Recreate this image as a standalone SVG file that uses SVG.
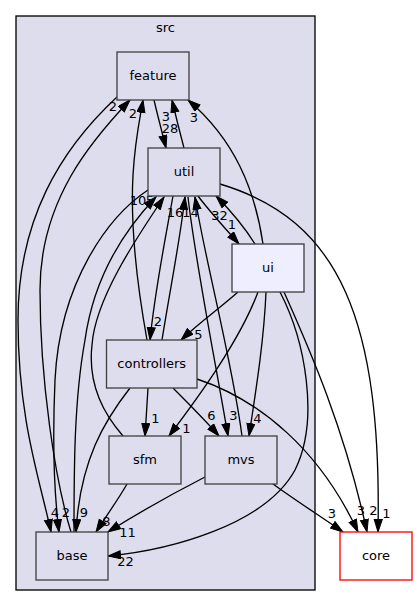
<svg xmlns="http://www.w3.org/2000/svg" width="417" height="607" viewBox="0 0 417 607">
<defs>
<style>
text{font-family:"DejaVu Sans",sans-serif;font-size:13px;fill:#000;text-anchor:middle}
.n rect{fill:#ddddee;stroke:#404040;stroke-width:1.33}
#ui rect{fill:#eeeeff}
#core rect{fill:#fff;stroke:#ff0000}
.e path{fill:none;stroke:#000;stroke-width:1.33;marker-end:url(#a)}
</style>
<marker id="a" markerUnits="userSpaceOnUse" markerWidth="14" markerHeight="10" refX="13" refY="4.5" orient="auto">
<path d="M0.5,0.5 L13,4.5 L0.5,8.5 z" fill="#000" stroke="#000" stroke-width="1"/>
</marker>
</defs>
<rect width="417" height="607" fill="#fff"/>
<g id="cluster_src">
<rect x="16" y="16" width="299" height="574" fill="#ddddee" stroke="#000" stroke-width="1.33"/>
<text x="165.5" y="31.5">src</text>
</g>
<g id="connectors" class="e">
<g><path d="M154,100 C157,113 161,128 166,148"/><text x="170" y="132.5">28</text></g>
<g><path d="M184,148 C180,133 176,117 172,100"/><text x="166" y="121">3</text></g>
<g><path d="M263,244 C255,190 235,140 188,100"/><text x="194" y="122">3</text></g>
<g><path d="M147,340 C138,290 130,230 133,175 C135,140 140,118 143,100"/><text x="133" y="118">2</text></g>
<g><path d="M71,532 C55,480 40,380 40,290 C40,200 92,140 130,100"/><text x="113" y="111">2</text></g>
<g><path d="M117,97 C60,150 18,220 18,320 C18,420 40,480 51,532"/><text x="55" y="517">4</text></g>
<g><path d="M148,190 C110,215 60,280 55,380 C52,450 55,500 59,532"/><text x="66" y="517">2</text></g>
<g><path d="M74,532 C74,470 74,400 85,340 C92,290 115,240 156,197"/><text x="138" y="205">10</text></g>
<g><path d="M123,436 C100,410 88,380 92,345 C95,300 135,240 164,197"/><text x="150" y="205">5</text></g>
<g><path d="M173,196 C165,240 155,290 150,340"/><text x="158" y="326">2</text></g>
<g><path d="M162,340 C170,290 180,240 185,197"/><text x="175" y="217">16</text></g>
<g><path d="M188,197 C195,260 215,360 228,436"/><text x="233.5" y="419.5">3</text></g>
<g><path d="M242,436 C232,360 205,260 195,197"/><text x="190.5" y="217">14</text></g>
<g><path d="M198,196 C210,212 225,228 239,244"/><text x="232" y="229">1</text></g>
<g><path d="M255,244 C245,228 230,210 216,196"/><text x="219.5" y="220">32</text></g>
<g><path d="M220,184 C340,220 382,320 378,532"/><text x="386.5" y="518">1</text></g>
<g><path d="M238,292 C220,308 200,322 181,340"/><text x="198.5" y="339">5</text></g>
<g><path d="M258,292 C240,340 200,395 169,436"/><text x="186.5" y="433">1</text></g>
<g><path d="M266,292 C264,340 256,390 249,436"/><text x="257.5" y="423">4</text></g>
<g><path d="M280,292 C305,340 320,420 295,470 C265,525 170,550 108,556"/><text x="125.5" y="566">22</text></g>
<g><path d="M284,292 C310,350 345,430 367,532"/><text x="373.5" y="515">2</text></g>
<g><path d="M148,388 C147,405 146,420 145,436"/><text x="155.5" y="423">1</text></g>
<g><path d="M173,388 C190,405 205,420 219,436"/><text x="211.5" y="420">6</text></g>
<g><path d="M130,388 C105,420 80,460 76,532"/><text x="84" y="517">9</text></g>
<g><path d="M197,379 C260,400 320,450 358,532"/><text x="361" y="515">3</text></g>
<g><path d="M127,484 C118,500 106,516 96,532"/><text x="106.5" y="526">8</text></g>
<g><path d="M205,477 C170,495 135,515 108,532"/><text x="127.5" y="537">11</text></g>
<g><path d="M273,484 C295,500 320,516 343,532"/><text x="332" y="518">3</text></g>
</g>
<g id="feature" class="n"><rect x="117" y="52" width="72" height="48"/><text x="153" y="80">feature</text></g>
<g id="util" class="n"><rect x="148" y="148" width="72" height="48"/><text x="184" y="176">util</text></g>
<g id="ui" class="n"><rect x="232" y="244" width="72" height="48"/><text x="268" y="272">ui</text></g>
<g id="controllers" class="n"><rect x="106.5" y="340" width="90.5" height="48"/><text x="151.75" y="368">controllers</text></g>
<g id="sfm" class="n"><rect x="109" y="436" width="72" height="48"/><text x="145" y="464">sfm</text></g>
<g id="mvs" class="n"><rect x="205" y="436" width="72" height="48"/><text x="241" y="464">mvs</text></g>
<g id="base" class="n"><rect x="36" y="532" width="72" height="48"/><text x="72" y="560">base</text></g>
<g id="core" class="n"><rect x="340" y="532" width="72" height="48"/><text x="376" y="560">core</text></g>
</svg>
